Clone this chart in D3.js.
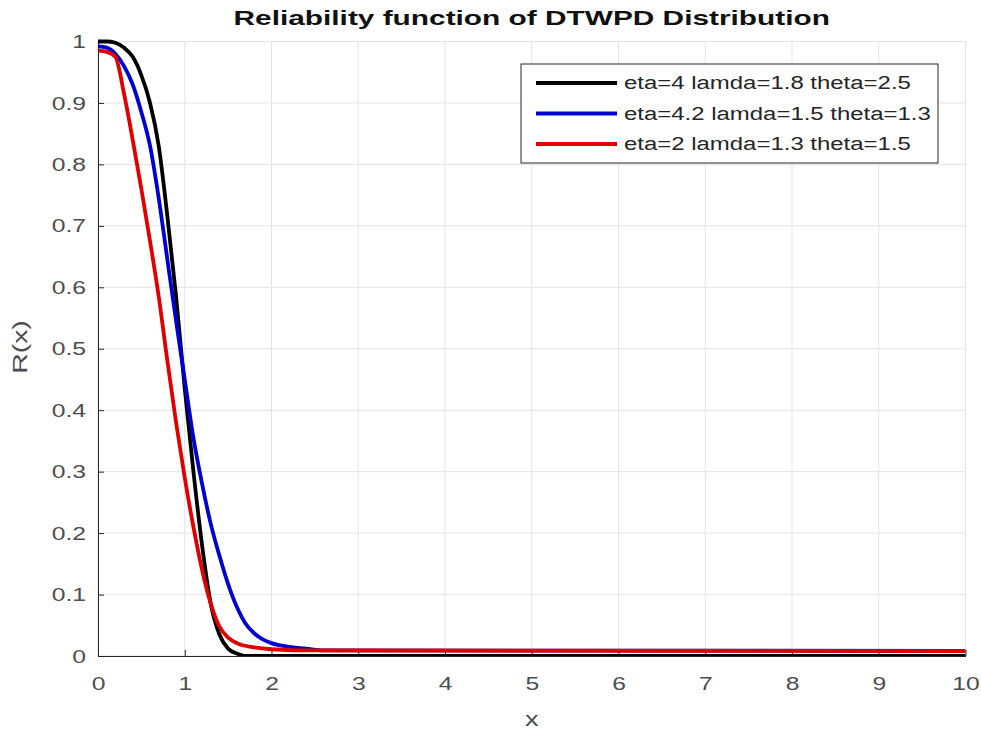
<!DOCTYPE html>
<head>
  <meta charset="utf-8">
  <title>Reliability function</title>
  <script src="https://d3js.org/d3.v7.min.js"></script>
  <style>
    body { margin:0; background:#fff; }
    svg { display:block; font-family: "Liberation Sans", Arial, sans-serif; }
  </style>
</head>
<body>
  <svg width="981" height="733"></svg>
  <script>
    // series
    var labels = ['eta=4 lamda=1.8 theta=2.5', 'eta=4.2 lamda=1.5 theta=1.3', 'eta=2 lamda=1.3 theta=1.5'];
    var colors = ['#000000', '#0000d0', '#e00000'];

    var blackX = [0, 0.1, 0.2, 0.3, 0.4, 0.5, 0.6, 0.7, 0.8, 0.9, 1.0, 1.1, 1.2, 1.3, 1.4, 1.5, 1.6, 1.7, 2, 10];
    var blackY = [1, 1, 0.998, 0.99, 0.975, 0.945, 0.9, 0.83, 0.715, 0.585, 0.435, 0.3, 0.18, 0.085, 0.035, 0.012, 0.004, 0, 0, 0];
    var blueX = [0, 0.1, 0.2, 0.3, 0.4, 0.5, 0.6, 0.7, 0.8, 0.9, 1.0, 1.1, 1.2, 1.3, 1.4, 1.5, 1.6, 1.7, 1.8, 1.9, 2.0, 2.2, 2.4, 2.6, 10];
    var blueY = [0.992, 0.99, 0.98, 0.96, 0.93, 0.885, 0.83, 0.745, 0.645, 0.545, 0.45, 0.355, 0.28, 0.215, 0.163, 0.117, 0.08, 0.053, 0.037, 0.027, 0.021, 0.015, 0.012, 0.009, 0.0085];
    var redX = [0, 0.1, 0.2, 0.3, 0.4, 0.5, 0.6, 0.7, 0.8, 0.9, 1.0, 1.1, 1.2, 1.3, 1.4, 1.5, 1.6, 1.8, 2.0, 2.5, 10];
    var redY = [0.985, 0.983, 0.975, 0.915, 0.84, 0.76, 0.675, 0.585, 0.48, 0.38, 0.29, 0.21, 0.14, 0.085, 0.048, 0.03, 0.021, 0.014, 0.011, 0.009, 0.008];

    var xTicks = [0, 1, 2, 3, 4, 5, 6, 7, 8, 9, 10];
    var yTicks = [0, 0.1, 0.2, 0.3, 0.4, 0.5, 0.6, 0.7, 0.8, 0.9, 1];

    var width = 981, height = 733;
    var margin = {top: 41.5, right: 15.5, bottom: 77, left: 98};

    var series = [
      {x: blackX, y: blackY},
      {x: blueX, y: blueY},
      {x: redX, y: redY}
    ];

    var xScale = d3.scaleLinear().domain([0, 10]).range([margin.left, width - margin.right]);
    var yScale = d3.scaleLinear().domain([0, 1]).range([height - margin.bottom, margin.top]);

    var svg = d3.select('svg');
    var textCol = '#4d4d4d';

    // the picture is stretched sideways, so widen text the same way
    function stretch(sel, k) {
      sel.each(function() {
        var w = this.getComputedTextLength();
        d3.select(this).attr('textLength', w * k).attr('lengthAdjust', 'spacingAndGlyphs');
      });
    }

    // grid
    svg.append('g').selectAll('line').data(xTicks).enter().append('line')
      .attr('x1', d => xScale(d)).attr('x2', d => xScale(d))
      .attr('y1', yScale(0)).attr('y2', yScale(1))
      .attr('stroke', '#e3e3e3').attr('stroke-width', 1);
    svg.append('g').selectAll('line').data(yTicks).enter().append('line')
      .attr('x1', xScale(0)).attr('x2', xScale(10))
      .attr('y1', d => yScale(d)).attr('y2', d => yScale(d))
      .attr('stroke', '#e3e3e3').attr('stroke-width', 1);

    // axes (MATLAB style, ticks inward)
    var xAxis = d3.axisBottom(xScale).tickValues(xTicks).tickFormat(d3.format('d'))
      .tickSizeInner(-6).tickSizeOuter(0).tickPadding(21);
    var yAxis = d3.axisLeft(yScale).tickValues(yTicks).tickFormat(d => d === 0 || d === 1 ? d : d3.format('.1f')(d))
      .tickSizeInner(-6).tickSizeOuter(0).tickPadding(12);

    var gx = svg.append('g')
      .attr('transform', 'translate(' + [0, height - margin.bottom] + ')')
      .call(xAxis);
    var gy = svg.append('g')
      .attr('transform', 'translate(' + [margin.left, 0] + ')')
      .call(yAxis);
    [gx, gy].forEach(g => {
      g.select('.domain').attr('stroke', '#262626').attr('stroke-width', 1);
      g.selectAll('.tick line').attr('stroke', '#262626');
      g.selectAll('.tick text').attr('fill', textCol).attr('font-size', 19)
        .attr('font-family', '"Liberation Sans", Arial, sans-serif')
        .call(stretch, 1.3);
    });

    // curves
    svg.append('clipPath').attr('id', 'clip').append('rect')
      .attr('x', xScale(0)).attr('y', yScale(1) - 4)
      .attr('width', xScale(10) - xScale(0)).attr('height', yScale(0) - yScale(1) + 4);

    var line = d3.line()
      .x(d => xScale(d[0]))
      .y(d => yScale(d[1]))
      .curve(d3.curveMonotoneX);

    series.forEach((s, i) => {
      var pts = s.x.map((v, j) => [v, s.y[j]]);
      svg.append('path')
        .attr('d', line(pts))
        .attr('fill', 'none')
        .attr('stroke', colors[i])
        .attr('stroke-width', 3.8)
        .attr('clip-path', 'url(#clip)');
    });

    // legend
    var lg = svg.append('g');
    lg.append('rect')
      .attr('x', 521).attr('y', 64).attr('width', 417).attr('height', 99)
      .attr('fill', '#fff').attr('stroke', '#262626').attr('stroke-width', 1);
    labels.forEach((lab, i) => {
      var yy = 83 + i * 30.5;
      lg.append('line')
        .attr('x1', 536).attr('x2', 617).attr('y1', yy).attr('y2', yy)
        .attr('stroke', colors[i]).attr('stroke-width', 3.8);
      lg.append('text')
        .attr('x', 624).attr('y', yy).attr('dy', '0.35em')
        .attr('font-size', 18).attr('fill', '#262626')
        .text(lab)
        .call(stretch, 1.33);
    });

    // title and labels
    svg.append('text')
      .attr('x', (xScale(0) + xScale(10)) / 2).attr('y', 25)
      .attr('text-anchor', 'middle').attr('font-size', 21).attr('font-weight', 'bold')
      .attr('fill', '#111')
      .text('Reliability function of DTWPD Distribution')
      .call(stretch, 1.42);
    svg.append('text')
      .attr('x', (xScale(0) + xScale(10)) / 2).attr('y', 726)
      .attr('text-anchor', 'middle').attr('font-size', 21).attr('fill', textCol)
      .text('x')
      .call(stretch, 1.3);
    svg.append('text')
      .attr('transform', 'translate(' + [27, 347] + ') rotate(-90)')
      .attr('text-anchor', 'middle').attr('font-size', 21).attr('fill', textCol)
      .text('R(x)')
      .call(stretch, 1.35);
  </script>
</body>
